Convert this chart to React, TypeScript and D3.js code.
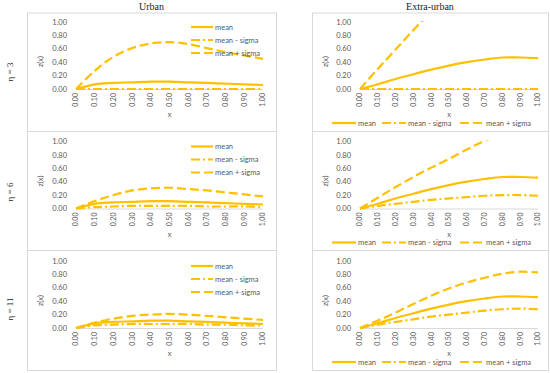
import React, { useEffect, useRef } from "react";
import * as d3 from "d3";

// data
const xValues = [0, 0.1, 0.2, 0.3, 0.4, 0.5, 0.6, 0.7, 0.8, 0.9, 1.0];
const yTicks = [0, 0.2, 0.4, 0.6, 0.8, 1.0];
const etaLabels = ["η = 3", "η = 6", "η = 11"];
const columnTitles = ["Urban", "Extra-urban"];
const seriesNames = ["mean", "mean - sigma", "mean + sigma"];

const urbanMean = [0, 0.07, 0.09, 0.1, 0.11, 0.11, 0.1, 0.09, 0.08, 0.07, 0.06];
const urbanMinus3 = [0, 0, 0, 0, 0, 0, 0, 0, 0, 0, 0];
const urbanPlus3 = [0, 0.27, 0.48, 0.61, 0.68, 0.7, 0.67, 0.61, 0.55, 0.5, 0.45];
const urbanMinus6 = [0, 0.02, 0.03, 0.04, 0.04, 0.04, 0.04, 0.03, 0.03, 0.03, 0.02];
const urbanPlus6 = [0, 0.11, 0.2, 0.27, 0.3, 0.31, 0.29, 0.27, 0.24, 0.21, 0.18];
const urbanMinus11 = [0, 0.04, 0.05, 0.06, 0.06, 0.06, 0.06, 0.05, 0.05, 0.04, 0.04];
const urbanPlus11 = [0, 0.08, 0.14, 0.18, 0.2, 0.21, 0.2, 0.18, 0.16, 0.14, 0.12];

const extraMean = [0, 0.07, 0.15, 0.22, 0.29, 0.35, 0.4, 0.44, 0.47, 0.47, 0.46];
const extraMinus3 = [0, 0, 0, 0, 0, 0, 0, 0, 0, 0, 0];
const extraPlus3 = [0, 0.3, 0.59, 0.88, 1.15, 1.4, 1.62, 1.8, 1.95, 2.05, 2.1];
const extraMinus6 = [0, 0.04, 0.07, 0.1, 0.13, 0.15, 0.17, 0.19, 0.2, 0.2, 0.19];
const extraPlus6 = [0, 0.16, 0.32, 0.47, 0.61, 0.74, 0.88, 1.01, 1.1, 1.18, 1.24];
const extraMinus11 = [0, 0.05, 0.09, 0.13, 0.17, 0.2, 0.23, 0.26, 0.28, 0.29, 0.28];
const extraPlus11 = [0, 0.11, 0.23, 0.36, 0.48, 0.59, 0.68, 0.75, 0.81, 0.84, 0.83];

const panels = [
  { row: 0, col: 0, series: [urbanMean, urbanMinus3, urbanPlus3] },
  { row: 0, col: 1, series: [extraMean, extraMinus3, extraPlus3] },
  { row: 1, col: 0, series: [urbanMean, urbanMinus6, urbanPlus6] },
  { row: 1, col: 1, series: [extraMean, extraMinus6, extraPlus6] },
  { row: 2, col: 0, series: [urbanMean, urbanMinus11, urbanPlus11] },
  { row: 2, col: 1, series: [extraMean, extraMinus11, extraPlus11] },
];

const COLOR = "#FFC000";
const TEXT = "#595959";
const FONT = "Lato, 'Open Sans', sans-serif";
const dashes = [null, "9,3,2,3", "9,4"];

const cols = [
  { boxX0: 27, boxX1: 276, plotX0: 76, plotX1: 263, legend: "right" },
  { boxX0: 312, boxX1: 548, plotX0: 360, plotX1: 538, legend: "bottom" },
];
const rowTops = [13, 131.5, 250.5];
const rowShift = [0, 119.5, 239];

function Chart() {
  const ref = useRef<SVGSVGElement>(null);

  useEffect(() => {
    const svg = d3.select(ref.current);
    svg.selectAll("*").remove();

    panels.forEach((p, i) => {
      const c = cols[p.col];
      const off = rowShift[p.row];
      const x = d3.scaleLinear().domain([0, 1]).range([c.plotX0, c.plotX1]);
      const y = d3.scaleLinear().domain([0, 1]).range([89 + off, 22 + off]);
      const g = svg.append("g");

      const top = rowTops[p.row];
      const bottom = p.row < 2 ? rowTops[p.row + 1] : 370.5;
      g.append("rect")
        .attr("x", c.boxX0 + 0.5)
        .attr("y", top)
        .attr("width", c.boxX1 - c.boxX0)
        .attr("height", bottom - top)
        .attr("fill", "white")
        .attr("stroke", "#d9d9d9");

      // y axis labels
      g.selectAll(".yt")
        .data(yTicks)
        .enter()
        .append("text")
        .attr("x", c.plotX0 - 9)
        .attr("y", (d) => y(d))
        .attr("dy", "0.35em")
        .attr("text-anchor", "end")
        .style("font-family", FONT)
        .style("font-size", "7.5px")
        .attr("fill", TEXT)
        .text((d) => d3.format(".2f")(d));

      // x axis line
      g.append("line")
        .attr("x1", c.plotX0)
        .attr("x2", c.plotX1)
        .attr("y1", y(0) + 0.5)
        .attr("y2", y(0) + 0.5)
        .attr("stroke", "#d9d9d9");

      // rotated x labels
      g.selectAll(".xt")
        .data(xValues)
        .enter()
        .append("text")
        .attr("transform", (d) => `translate(${x(d)},${y(0) + 4}) rotate(-90)`)
        .attr("dy", "0.35em")
        .attr("text-anchor", "end")
        .style("font-family", FONT)
        .style("font-size", "7px")
        .attr("fill", TEXT)
        .text((d) => d3.format(".2f")(d));

      g.append("text")
        .attr("x", (c.plotX0 + c.plotX1) / 2)
        .attr("y", y(0) + 28)
        .attr("text-anchor", "middle")
        .style("font-family", FONT)
        .style("font-size", "7.5px")
        .attr("fill", TEXT)
        .text("x");

      g.append("text")
        .attr("transform", `translate(${c.boxX0 + 16},${(y(0) + y(1)) / 2 + 6}) rotate(-90)`)
        .attr("text-anchor", "middle")
        .style("font-family", FONT)
        .style("font-size", "7.5px")
        .attr("fill", TEXT)
        .text("z(x)");

      const clipId = `clip-${i}`;
      svg
        .append("clipPath")
        .attr("id", clipId)
        .append("rect")
        .attr("x", c.plotX0 - 3)
        .attr("y", y(1) - 1)
        .attr("width", c.plotX1 - c.plotX0 + 6)
        .attr("height", y(0) - y(1) + 4);

      const line = d3
        .line<number>()
        .x((d, j) => x(xValues[j]))
        .y((d) => y(d))
        .curve(d3.curveCatmullRom.alpha(0.5));

      p.series.forEach((s, k) => {
        g.append("path")
          .datum(s)
          .attr("clip-path", `url(#${clipId})`)
          .attr("d", line)
          .attr("fill", "none")
          .attr("stroke", COLOR)
          .attr("stroke-width", 2.2)
          .attr("stroke-dasharray", dashes[k]);
      });

      // legend
      seriesNames.forEach((name, k) => {
        let lx, ly, len;
        if (c.legend === "right") {
          lx = 191;
          ly = y(1) + 5 + k * 13;
          len = 22;
        } else {
          lx = [332, 382, 460][k];
          ly = y(0) + 34;
          len = 24;
        }
        g.append("line")
          .attr("x1", lx)
          .attr("x2", lx + len)
          .attr("y1", ly)
          .attr("y2", ly)
          .attr("stroke", COLOR)
          .attr("stroke-width", 2.2)
          .attr("stroke-dasharray", dashes[k]);
        g.append("text")
          .attr("x", lx + len + 2)
          .attr("y", ly)
          .attr("dy", "0.35em")
          .style("font-family", FONT)
          .style("font-size", "7.5px")
          .attr("fill", TEXT)
          .text(name);
      });
    });

    columnTitles.forEach((t, i) => {
      svg
        .append("text")
        .attr("x", (cols[i].boxX0 + cols[i].boxX1) / 2)
        .attr("y", 10)
        .attr("text-anchor", "middle")
        .style("font-family", "'Liberation Serif', serif")
        .style("font-size", "10px")
        .attr("fill", "#222")
        .text(t);
    });

    etaLabels.forEach((t, i) => {
      svg
        .append("text")
        .attr("transform", `translate(13,${[72, 192, 309][i]}) rotate(-90)`)
        .attr("text-anchor", "middle")
        .style("font-family", "'Liberation Serif', serif")
        .style("font-size", "9px")
        .attr("fill", "#222")
        .text(t);
    });
  }, []);

  return <svg ref={ref} width={550} height={373} />;
}

export default function App() {
  return (
    <div style={{ position: "absolute", left: 0, top: 0 }}>
      <Chart />
    </div>
  );
}
